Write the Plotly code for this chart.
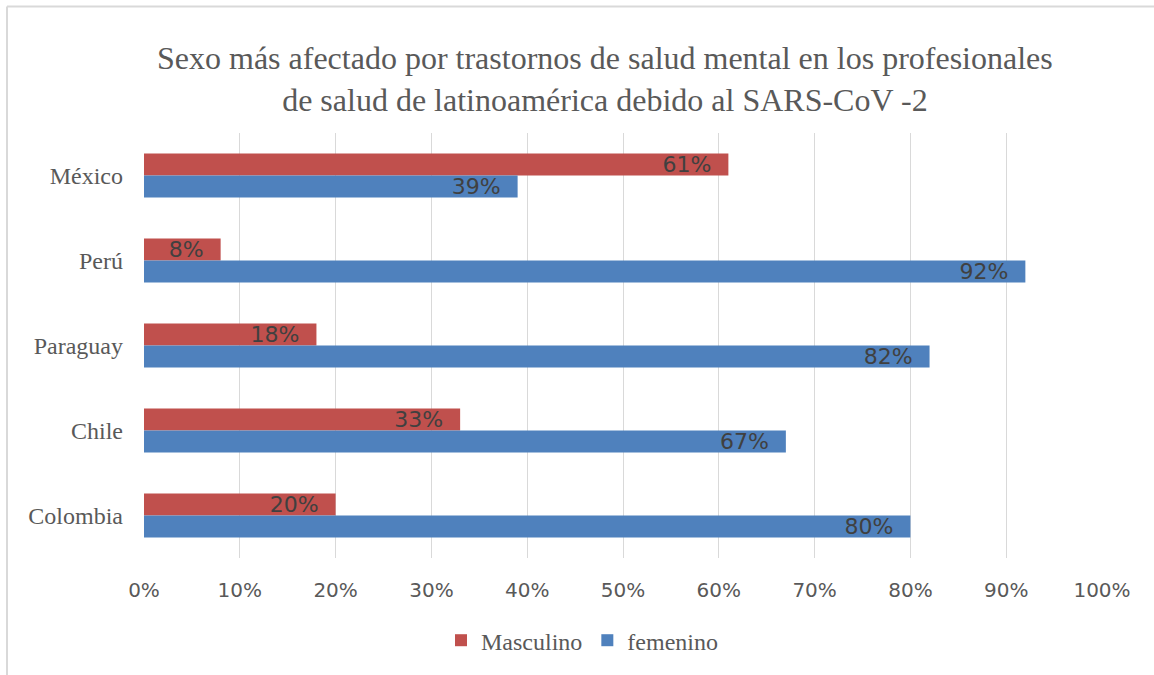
import plotly.graph_objects as go

# datos
paises = ["México", "Perú", "Paraguay", "Chile", "Colombia"]
masculino = [61, 8, 18, 33, 20]
femenino = [39, 92, 82, 67, 80]
ticks_x = [0, 10, 20, 30, 40, 50, 60, 70, 80, 90, 100]

ROJO = "#C0504D"
AZUL = "#4F81BD"
GRIS = "#595959"
SERIF = "Liberation Serif, Times New Roman, serif"
SANS = "DejaVu Sans, sans-serif"

W, H = 1154, 675
ML, MR, MT, MB = 144, 52, 133, 115
PW, PH = W - ML - MR, H - MT - MB


# pixel -> paper
def px_x(p):
    return (p - ML) / PW


def px_y(p):
    return (H - MB - p) / PH


fig = go.Figure()
for nombre, valores, color in [("Masculino", masculino, ROJO), ("femenino", femenino, AZUL)]:
    fig.add_trace(go.Bar(
        y=paises,
        x=valores,
        name=nombre,
        orientation="h",
        marker=dict(color=color, line=dict(width=0)),
        text=[f"{v}%\u00a0\u00a0" for v in valores],
        textposition="inside",
        insidetextanchor="end",
        constraintext="none",
        textfont=dict(family=SANS, size=22, color="#404040"),
        cliponaxis=False,
    ))

fig.update_layout(
    width=W,
    height=H,
    margin=dict(l=ML, r=MR, t=MT, b=MB),
    paper_bgcolor="white",
    plot_bgcolor="white",
    barmode="group",
    bargap=0.48,
    bargroupgap=0,
    showlegend=True,
    legend=dict(
        orientation="h",
        x=px_x(582),
        xanchor="center",
        y=px_y(643),
        yanchor="middle",
        font=dict(family=SERIF, size=24, color=GRIS),
        itemwidth=30,
        traceorder="normal",
    ),
    annotations=[dict(
        text="Sexo más afectado por trastornos de salud mental en los profesionales<br>de salud de latinoamérica debido al SARS-CoV -2",
        xref="paper", yref="paper",
        x=px_x(605), y=px_y(79),
        xanchor="center", yanchor="middle",
        showarrow=False,
        font=dict(family=SERIF, size=32, color=GRIS),
    )],
    shapes=[
        dict(type="line", xref="paper", yref="paper",
             x0=px_x(7), x1=px_x(1160), y0=px_y(6), y1=px_y(6),
             line=dict(color="#D9D9D9", width=2)),
        dict(type="line", xref="paper", yref="paper",
             x0=px_x(7), x1=px_x(7), y0=px_y(6), y1=px_y(680),
             line=dict(color="#D9D9D9", width=2)),
    ],
)

fig.update_xaxes(
    range=[0, 100],
    tickvals=ticks_x,
    ticktext=[f"{t}%" for t in ticks_x],
    showgrid=True,
    gridcolor="#D9D9D9",
    gridwidth=1,
    zeroline=False,
    showline=False,
    ticks="",
    ticklabelstandoff=18,
    tickfont=dict(family=SANS, size=20, color=GRIS),
)
fig.update_yaxes(
    autorange="reversed",
    showgrid=False,
    zeroline=False,
    showline=False,
    ticks="",
    ticklabelstandoff=20,
    tickfont=dict(family=SERIF, size=24, color=GRIS),
)

fig.write_html("out.html", config={"displayModeBar": False},
               post_script="document.body.style.margin='0';")
